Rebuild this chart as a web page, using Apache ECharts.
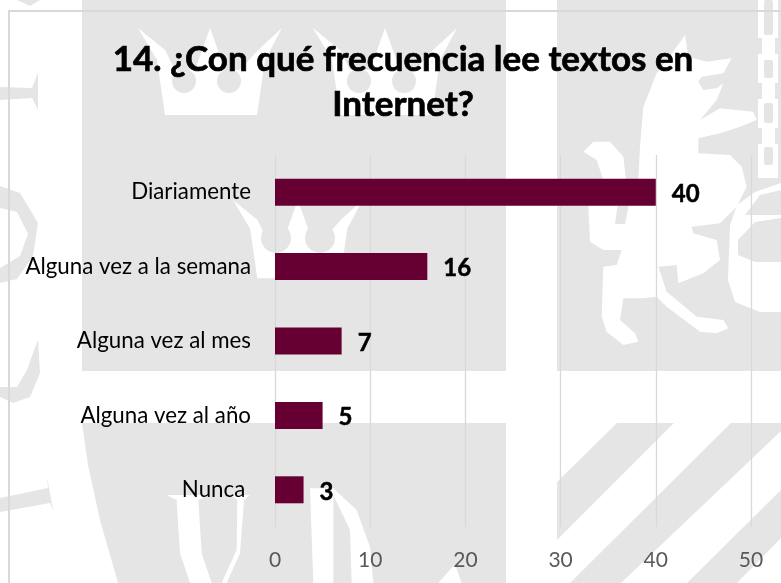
<!DOCTYPE html>
<html>
<head>
<meta charset="utf-8">
<style>html,body{margin:0;padding:0;background:#fff}#chart{width:781px;height:583px}</style>
<script src="https://cdn.jsdelivr.net/npm/echarts@6/dist/echarts.min.js"></script>
</head>
<body>
<div id="chart"></div>
<script>
const categories = ['Diariamente', 'Alguna vez a la semana', 'Alguna vez al mes', 'Alguna vez al año', 'Nunca '];
const respuestas = [40, 16, 7, 5, 3];
const tituloTexto = '14. ¿Con qué frecuencia lee textos en\nInternet?';
const ejeMin = 0, ejeMax = 50, ejeIntervalo = 10;

// Watermark colours for the crest behind the chart
const GRIS = '#e5e5e5', BLANCO = '#ffffff';

const poly = (pts, fill, smooth) => ({ type: 'polygon', silent: true, z: -10, shape: { points: pts, smooth: smooth || 0 }, style: { fill } });
const rect = (x, y, width, height, fill, r) => ({ type: 'rect', silent: true, z: -10, shape: { x, y, width, height, r: r || 0 }, style: { fill } });
const disc = (cx, cy, r, fill) => ({ type: 'circle', silent: true, z: -10, shape: { cx, cy, r }, style: { fill } });

// Crown outline in a local frame whose origin is the left tip
const coronaPuntos = [[0, 0], [27, 22], [37, 42], [57, 42], [72, 0], [87, 42], [102, 42], [120, 22], [144, 0], [127, 32], [119, 87], [27, 87], [19, 32]];
const corona = (dx, dy, s, c1, c2, cy, r) => [
  poly(coronaPuntos.map(p => [dx + p[0] * s, dy + p[1] * s]), BLANCO),
  disc(c1, cy, r, GRIS),
  disc(c2, cy, r, GRIS)
];

const dragon = [[350, 80], [290, 160], [250, 260], [240, 380], [235, 480], [205, 560], [195, 612], [165, 612], [175, 540], [200, 500], [190, 410], [150, 365], [100, 365], [70, 395], [110, 420], [130, 480], [85, 560], [90, 665], [130, 690], [185, 690], [170, 735], [130, 740], [125, 890], [140, 935], [190, 975], [235, 965], [225, 940], [180, 900], [190, 835], [250, 835], [290, 830], [320, 860], [420, 935], [470, 940], [505, 925], [490, 900], [410, 890], [320, 815], [295, 740], [350, 735], [355, 790], [430, 760], [480, 720], [470, 660], [400, 640], [395, 620], [480, 610], [530, 560], [560, 500], [545, 440], [510, 405], [415, 400], [415, 355], [480, 340], [540, 320], [590, 300], [580, 275], [480, 265], [420, 300], [470, 240], [490, 190], [470, 205], [430, 210], [415, 185], [425, 170], [490, 160], [515, 115], [440, 125], [385, 110], [375, 45]]
  .map(p => [560 + p[0] / 3, 20 + p[1] / 3]);

const letra = pts => poly(pts.map(p => [80 + p[0] / 3, 420 + p[1] / 3]), BLANCO);

const fondo = [
  // Panels of the crest
  rect(82, 0, 424, 371, GRIS),
  rect(557, 0, 224, 371, GRIS),
  poly([[82, 423], [506, 423], [506, 583], [118, 583], [100, 520], [88, 465]], GRIS),
  // Left-hand fragments
  poly([[17, 0], [40, 0], [30, 6]], GRIS),
  poly([[0, 87], [32, 88], [38, 73], [38, 110], [32, 98], [0, 100]], GRIS),
  poly([[0, 186], [20, 193], [38, 223], [33, 256], [17, 279], [0, 283], [0, 268], [20, 256], [28, 234], [17, 212], [0, 208]], GRIS),
  poly([[38, 340], [40, 373], [30, 397], [13, 403], [0, 397], [0, 387], [17, 387], [27, 370], [33, 353]], GRIS),
  poly([[0, 498], [48, 488], [47, 477], [53, 510], [50, 503], [0, 512]], GRIS),
  // Crowns
  ...corona(138, 28, 1, 184, 229, 81, 12),
  ...corona(313, 28, 1, 359, 404, 81, 12),
  ...corona(233, 200, 0.9, 276, 320, 238, 15),
  // Dragon silhouette on the right panel
  poly(dragon, BLANCO),
  // Chain
  rect(758, 0, 20, 178, BLANCO),
  ...[[-2, 35], [17, 35], [60, 78], [103, 123], [147, 165]].map(e => rect(764, e[0] < 0 ? 0 : e[0], 9, e[1] - Math.max(e[0], 0), GRIS, 2)),
  ...[38, 83, 128].flatMap(y => [rect(758, y, 4, 16, GRIS), rect(775, y, 3, 16, GRIS)]),
  // Shackle
  poly([[781, 183], [755, 192], [737, 205], [730, 225], [728, 280], [735, 302], [760, 312], [781, 312]], BLANCO),
  poly([[781, 190], [760, 195], [745, 215], [781, 215]], GRIS),
  poly([[781, 218], [755, 222], [738, 240], [738, 255], [755, 262], [781, 262]], GRIS),
  // Diagonal bands at the lower right
  poly([[617, 423], [674, 423], [557, 540], [557, 482]], GRIS),
  poly([[731, 423], [781, 423], [781, 431], [621, 583], [570, 583]], GRIS),
  poly([[781, 490], [781, 538], [737, 583], [687, 583]], GRIS),
  // Lettering at the bottom of the crest
  letra([[260, 225], [385, 225], [355, 240], [365, 400], [395, 489], [330, 489], [300, 400], [290, 240]]),
  letra([[450, 225], [510, 225], [492, 240], [480, 400], [440, 489], [425, 489], [470, 390], [472, 240]]),
  letra([[690, 205], [760, 205], [830, 270], [870, 380], [880, 489], [815, 489], [810, 330], [760, 225], [760, 489], [700, 489]]),
  letra([[1125, 432], [1145, 489], [1075, 489]]),
  // Outer frame
  { type: 'polyline', silent: true, z: -5, shape: { points: [[9, 583], [9, 11], [781, 11]] }, style: { stroke: '#d9d9d9', lineWidth: 2, fill: 'none' } }
];

const chart = echarts.init(document.getElementById('chart'), null, { renderer: 'canvas' });
chart.setOption({
  animation: false,
  backgroundColor: '#ffffff',
  title: {
    text: tituloTexto,
    left: 398,
    top: 32,
    textAlign: 'center',
    textStyle: { fontFamily: 'Lato', fontWeight: 'bold', fontSize: 35, lineHeight: 45, color: '#000000', textBorderColor: '#000000', textBorderWidth: 0.7 }
  },
  grid: { left: 275, top: 155, width: 476, height: 372, containLabel: false },
  xAxis: {
    type: 'value',
    min: ejeMin,
    max: ejeMax,
    interval: ejeIntervalo,
    axisLine: { show: false },
    axisTick: { show: false },
    splitLine: { show: true, lineStyle: { color: '#d9d9d9', width: 1.3 } },
    axisLabel: { fontFamily: 'Lato', fontSize: 21, color: '#595959', margin: 23 }
  },
  yAxis: {
    type: 'category',
    inverse: true,
    data: categories,
    axisLine: { show: false },
    axisTick: { show: false },
    splitLine: { show: false },
    axisLabel: { fontFamily: 'Lato', fontSize: 22.3, color: '#000000', margin: 24, padding: [7, 0, 0, 0] }
  },
  series: [{
    type: 'bar',
    data: respuestas,
    barWidth: 27,
    itemStyle: { color: '#660033' },
    label: {
      show: true,
      position: 'right',
      distance: 16,
      offset: [0, 2],
      fontFamily: 'Lato',
      fontWeight: 'bold',
      fontSize: 24,
      color: '#000000',
      textBorderColor: '#000000',
      textBorderWidth: 0.5
    }
  }],
  graphic: { elements: fondo }
});
</script>
</body>
</html>
